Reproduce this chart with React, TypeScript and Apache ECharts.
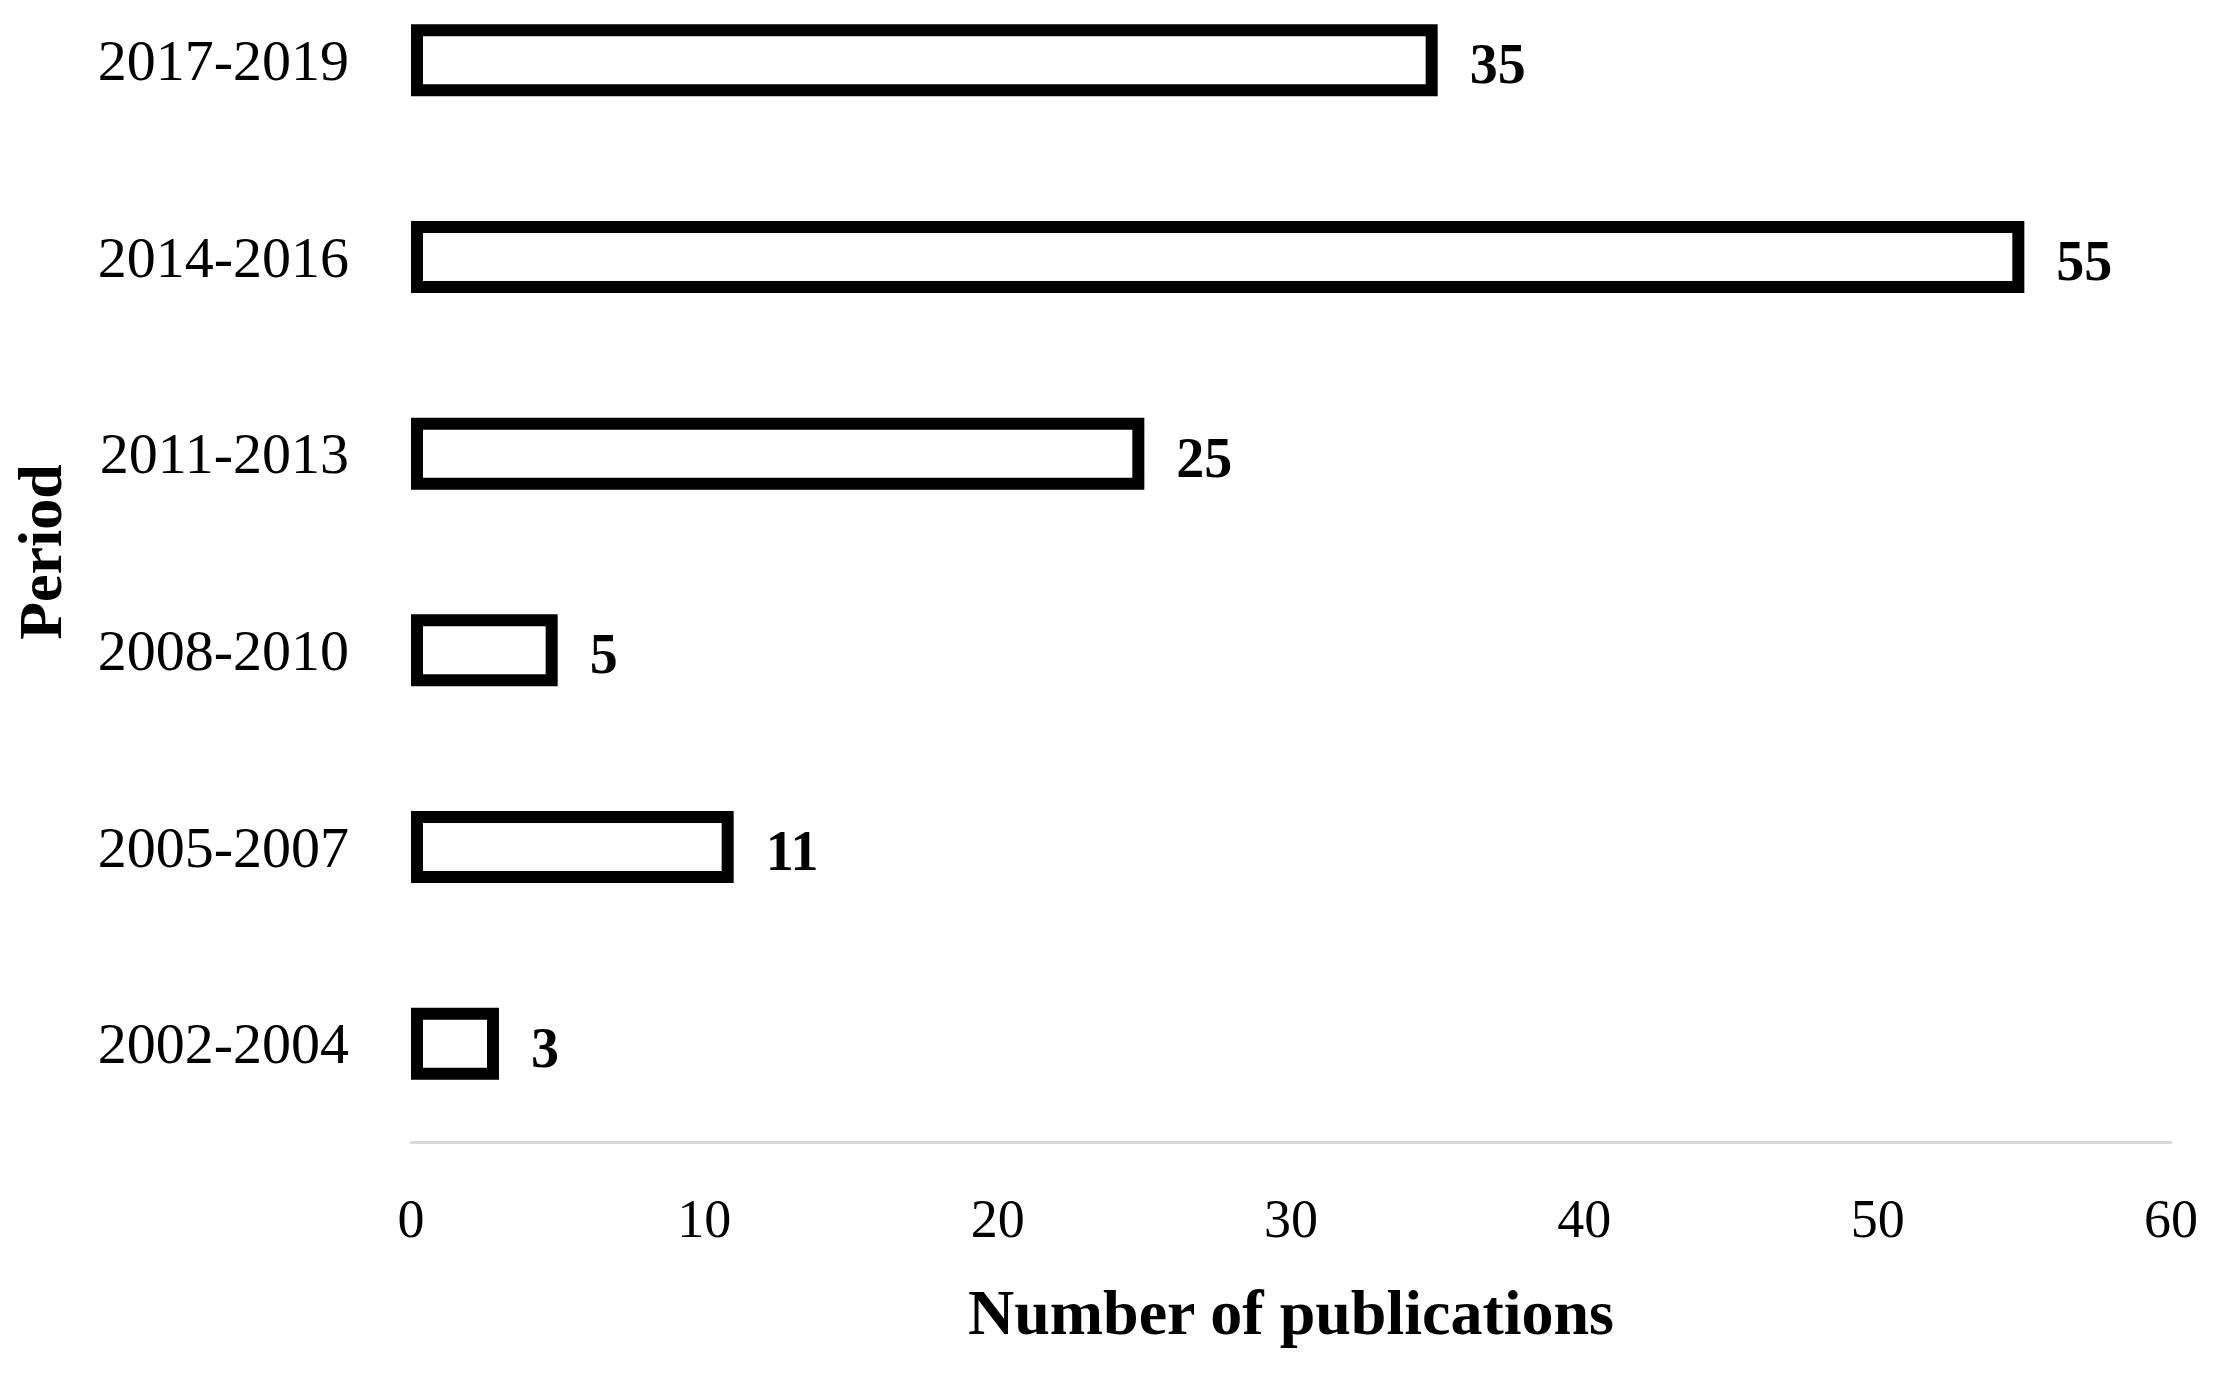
import React, { useEffect, useRef } from "react";
import * as echarts from "echarts";

const periods = ["2002-2004", "2005-2007", "2008-2010", "2011-2013", "2014-2016", "2017-2019"];
const publications = [3, 11, 5, 25, 55, 35];
const xMin = 0;
const xMax = 60;
const xInterval = 10;
const xTitle = "Number of publications";
const yTitle = "Period";

const FONT = "'Liberation Serif', 'Times New Roman', serif";
const SHIFT = 38;

export default function App() {
  const ref = useRef<HTMLDivElement>(null);
  useEffect(() => {
    document.body.style.margin = "0";
    document.body.style.overflow = "hidden";
    if (!ref.current) return;
    const chart = echarts.init(ref.current, undefined, { renderer: "svg" });
    chart.setOption({
      animation: false,
      backgroundColor: "#ffffff",
      grid: { left: 411, right: 51, top: 0, bottom: 235, containLabel: false },
      xAxis: {
        type: "value",
        min: xMin,
        max: xMax,
        interval: xInterval,
        name: xTitle,
        nameLocation: "middle",
        nameGap: 138,
        nameTextStyle: { fontFamily: FONT, fontSize: 64, fontWeight: "bold", color: "#000" },
        axisLine: { show: true, lineStyle: { color: "#d9d9d9", width: 3 } },
        axisTick: { show: false },
        splitLine: { show: false },
        axisLabel: { fontFamily: FONT, fontSize: 54, color: "#000", margin: 50 },
      },
      yAxis: {
        type: "category",
        data: periods,
        name: yTitle,
        nameLocation: "middle",
        nameGap: 340,
        nameTextStyle: { fontFamily: FONT, fontSize: 62, fontWeight: "bold", color: "#000" },
        axisLine: { show: false },
        axisTick: { show: false },
        splitLine: { show: false },
        axisLabel: { fontFamily: FONT, fontSize: 58, color: "#000", margin: 62 },
      },
      series: [
        {
          type: "bar",
          data: publications,
          barWidth: 72,
          itemStyle: { color: "#ffffff", borderColor: "#000000", borderWidth: 12 },
          label: {
            show: true,
            position: "right",
            distance: 32,
            fontFamily: FONT,
            fontSize: 56,
            fontWeight: "bold",
            color: "#000",
            offset: [0, 4],
          },
        },
      ],
    });
    return () => chart.dispose();
  }, []);
  return (
    <div
      ref={ref}
      style={{ position: "absolute", left: 0, top: -SHIFT, width: 2222, height: 1377 + SHIFT }}
    />
  );
}
